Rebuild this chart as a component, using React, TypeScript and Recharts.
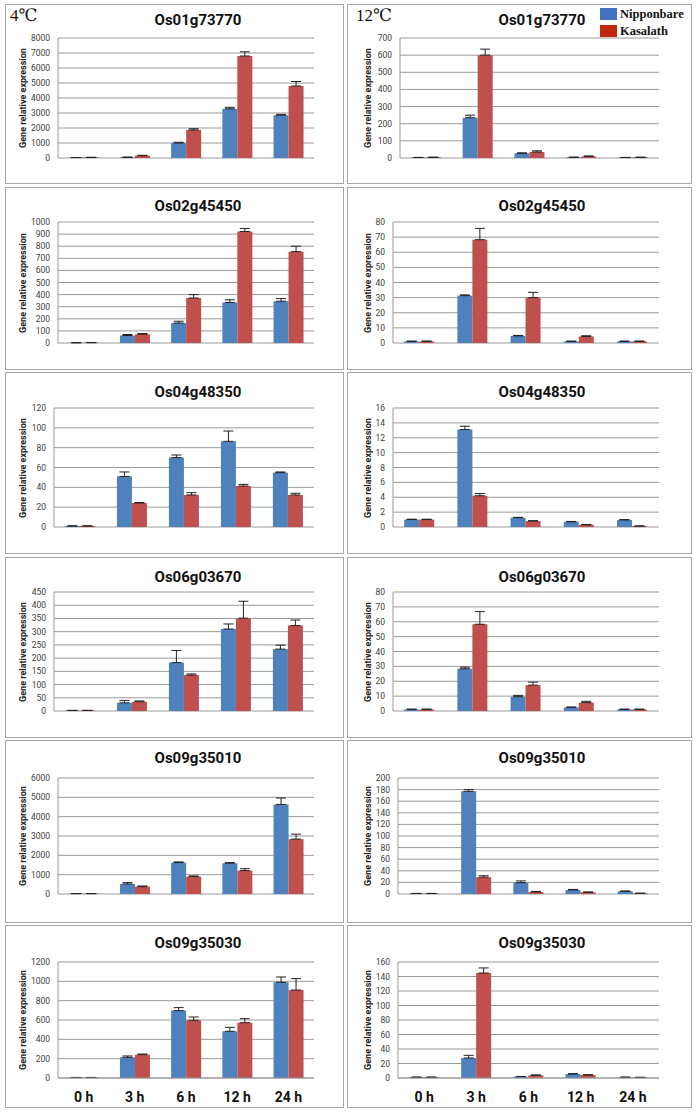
import React from 'react';
import { BarChart, Bar, XAxis, YAxis, CartesianGrid, ErrorBar } from 'recharts';

const categories = ['0 h', '3 h', '6 h', '12 h', '24 h'];
const seriesNames = ['Nipponbare', 'Kasalath'];
const yAxisTitle = 'Gene relative expression';
const tempLabels = ['4℃', '12℃'];

// Os01g73770 4℃
const g1c4Nip = [30, 50, 1000, 3280, 2850];
const g1c4NipErr = [5, 10, 50, 100, 60];
const g1c4Kas = [40, 150, 1870, 6800, 4800];
const g1c4KasErr = [5, 30, 80, 280, 300];
const g1c4Ticks = [0, 1000, 2000, 3000, 4000, 5000, 6000, 7000, 8000];
// Os01g73770 12℃
const g1c12Nip = [3, 235, 27, 4, 3];
const g1c12NipErr = [0.5, 15, 3, 1, 0.5];
const g1c12Kas = [4, 600, 35, 9, 4];
const g1c12KasErr = [0.5, 35, 7, 3, 0.5];
const g1c12Ticks = [0, 100, 200, 300, 400, 500, 600, 700];
// Os02g45450 4℃
const g2c4Nip = [2, 62, 165, 335, 345];
const g2c4NipErr = [0.5, 8, 15, 22, 22];
const g2c4Kas = [3, 72, 372, 922, 755];
const g2c4KasErr = [0.5, 6, 28, 25, 45];
const g2c4Ticks = [0, 100, 200, 300, 400, 500, 600, 700, 800, 900, 1000];
// Os02g45450 12℃
const g2c12Nip = [1, 31.3, 4.7, 1, 1];
const g2c12NipErr = [0.3, 0.5, 0.3, 0.3, 0.3];
const g2c12Kas = [1, 68.3, 30, 4.3, 1];
const g2c12KasErr = [0.3, 7.5, 3.5, 0.5, 0.3];
const g2c12Ticks = [0, 10, 20, 30, 40, 50, 60, 70, 80];
// Os04g48350 4℃
const g3c4Nip = [1, 51, 70, 86.4, 54.8];
const g3c4NipErr = [0.2, 4.5, 2.6, 10.4, 0.7];
const g3c4Kas = [1, 24.2, 32.3, 41.3, 32.3];
const g3c4KasErr = [0.2, 0.5, 2.3, 1.7, 1.7];
const g3c4Ticks = [0, 20, 40, 60, 80, 100, 120];
// Os04g48350 12℃
const g3c12Nip = [1.0, 13.1, 1.25, 0.7, 0.95];
const g3c12NipErr = [0.05, 0.45, 0.05, 0.05, 0.05];
const g3c12Kas = [1.0, 4.2, 0.8, 0.3, 0.12];
const g3c12KasErr = [0.05, 0.3, 0.05, 0.03, 0.02];
const g3c12Ticks = [0, 2, 4, 6, 8, 10, 12, 14, 16];
// Os06g03670 4℃
const g4c4Nip = [2, 31, 183, 310, 234];
const g4c4NipErr = [0.5, 9, 46, 19, 15];
const g4c4Kas = [2, 35, 136, 351, 323];
const g4c4KasErr = [0.5, 3, 4, 64, 21];
const g4c4Ticks = [0, 50, 100, 150, 200, 250, 300, 350, 400, 450];
// Os06g03670 12℃
const g4c12Nip = [1, 28.4, 9.6, 2.4, 1];
const g4c12NipErr = [0.3, 1.1, 0.9, 0.3, 0.3];
const g4c12Kas = [1, 58.3, 17.4, 5.6, 1];
const g4c12KasErr = [0.3, 8.5, 2, 0.9, 0.3];
const g4c12Ticks = [0, 10, 20, 30, 40, 50, 60, 70, 80];
// Os09g35010 4℃
const g5c4Nip = [20, 519, 1625, 1590, 4634];
const g5c4NipErr = [5, 70, 35, 35, 330];
const g5c4Kas = [20, 380, 900, 1210, 2836];
const g5c4KasErr = [5, 35, 34, 100, 260];
const g5c4Ticks = [0, 1000, 2000, 3000, 4000, 5000, 6000];
// Os09g35010 12℃
const g5c12Nip = [0.8, 177, 19.6, 6.9, 4.6];
const g5c12NipErr = [0.2, 3, 3, 1, 0.6];
const g5c12Kas = [0.8, 29, 3.5, 2.9, 1.2];
const g5c12KasErr = [0.2, 2.5, 1, 0.6, 0.2];
const g5c12Ticks = [0, 20, 40, 60, 80, 100, 120, 140, 160, 180, 200];
// Os09g35030 4℃
const g6c4Nip = [5, 214, 697, 483, 990];
const g6c4NipErr = [1, 14, 31, 41, 55];
const g6c4Kas = [5, 241, 597, 572, 910];
const g6c4KasErr = [1, 7, 34, 42, 118];
const g6c4Ticks = [0, 200, 400, 600, 800, 1000, 1200];
// Os09g35030 12℃
const g6c12Nip = [1, 27.6, 1.8, 5.5, 1];
const g6c12NipErr = [0.3, 3.7, 0.3, 0.5, 0.3];
const g6c12Kas = [1, 144.8, 3.7, 4.1, 0.8];
const g6c12KasErr = [0.3, 7, 0.5, 0.5, 0.2];
const g6c12Ticks = [0, 20, 40, 60, 80, 100, 120, 140, 160];

const geneNames = ['Os01g73770', 'Os02g45450', 'Os04g48350', 'Os06g03670', 'Os09g35010', 'Os09g35030'];

const panels = [
  [g1c4Nip, g1c4NipErr, g1c4Kas, g1c4KasErr, g1c4Ticks, g1c12Nip, g1c12NipErr, g1c12Kas, g1c12KasErr, g1c12Ticks],
  [g2c4Nip, g2c4NipErr, g2c4Kas, g2c4KasErr, g2c4Ticks, g2c12Nip, g2c12NipErr, g2c12Kas, g2c12KasErr, g2c12Ticks],
  [g3c4Nip, g3c4NipErr, g3c4Kas, g3c4KasErr, g3c4Ticks, g3c12Nip, g3c12NipErr, g3c12Kas, g3c12KasErr, g3c12Ticks],
  [g4c4Nip, g4c4NipErr, g4c4Kas, g4c4KasErr, g4c4Ticks, g4c12Nip, g4c12NipErr, g4c12Kas, g4c12KasErr, g4c12Ticks],
  [g5c4Nip, g5c4NipErr, g5c4Kas, g5c4KasErr, g5c4Ticks, g5c12Nip, g5c12NipErr, g5c12Kas, g5c12KasErr, g5c12Ticks],
  [g6c4Nip, g6c4NipErr, g6c4Kas, g6c4KasErr, g6c4Ticks, g6c12Nip, g6c12NipErr, g6c12Kas, g6c12KasErr, g6c12Ticks],
];

// layout (styles only)
const ROWS = [
  { top: 4, h: 180, pt: 38, pb: 158, ty: 20 },
  { top: 187, h: 183, pt: 222, pb: 343, ty: 206 },
  { top: 372, h: 182, pt: 408, pb: 527, ty: 392 },
  { top: 557, h: 181, pt: 592, pb: 711, ty: 577 },
  { top: 740, h: 183, pt: 778, pb: 894, ty: 758 },
  { top: 925, h: 183, pt: 962, pb: 1078, ty: 943 },
];
const COLS = [
  { x: 5, w: 339, right: 314, title: 198, ylab: 23, axis: [58, 58, 54, 54, 58, 58] },
  { x: 347, w: 345, right: 659, title: 542, ylab: 368, axis: [400, 393, 393, 393, 398, 398] },
];
const BLUE = '#4F81BD';
const RED = '#C0504D';
const GRID = '#9a9a9a';

function Panel({ row, col, nip, nipErr, kas, kasErr, ticks }: any) {
  const R = ROWS[row];
  const C = COLS[col];
  const last = row === ROWS.length - 1;
  const xh = last ? 30 : 0;
  const axisX = C.axis[row];
  const data = categories.map((c, i) => ({
    cat: c,
    n: nip[i],
    k: kas[i],
    ne: [0, nipErr[i]],
    ke: [0, kasErr[i]],
  }));
  const margin = {
    top: R.pt - R.top,
    left: 0,
    right: C.x + C.w - C.right,
    bottom: R.top + R.h - R.pb - xh,
  };
  return (
    <div style={{ position: 'absolute', left: C.x, top: R.top, width: C.w, height: R.h }}>
      <div style={{ position: 'absolute', inset: 0, border: '1px solid #a6a6a6', boxSizing: 'border-box' }} />
      <BarChart width={C.w} height={R.h} data={data} margin={margin} barCategoryGap="21%" barGap={0}>
        <CartesianGrid vertical={false} stroke={GRID} />
        <XAxis
          dataKey="cat"
          height={xh}
          axisLine={{ stroke: GRID }}
          tickLine={false}
          tickMargin={8}
          tick={last ? { fontSize: 14, fontWeight: 'bold', fill: '#111', fontFamily: 'Roboto' } : false}
        />
        <YAxis
          type="number"
          width={axisX - C.x}
          domain={[0, ticks[ticks.length - 1]]}
          ticks={ticks}
          interval={0}
          axisLine={{ stroke: GRID }}
          tickLine={false}
          tick={{ fontSize: 8.5, fill: '#404040', fontFamily: 'Roboto' }}
          allowDataOverflow
        />
        <Bar dataKey="n" name={seriesNames[0]} fill={BLUE} isAnimationActive={false}>
          <ErrorBar dataKey="ne" direction="y" width={5} stroke="#222" strokeWidth={1} />
        </Bar>
        <Bar dataKey="k" name={seriesNames[1]} fill={RED} isAnimationActive={false}>
          <ErrorBar dataKey="ke" direction="y" width={5} stroke="#222" strokeWidth={1} />
        </Bar>
      </BarChart>
    </div>
  );
}

export default function App() {
  const items: any[] = [];
  const overlays: any[] = [];
  panels.forEach((p, row) => {
    [0, 1].forEach((col) => {
      const o = col * 5;
      items.push(
        <Panel key={`p${row}-${col}`} row={row} col={col} nip={p[o]} nipErr={p[o + 1]} kas={p[o + 2]} kasErr={p[o + 3]} ticks={p[o + 4]} />
      );
      const R = ROWS[row];
      const C = COLS[col];
      overlays.push(
        <div key={`t${row}-${col}`} style={{ position: 'absolute', left: C.title - 100, top: R.ty - 10, width: 200, height: 20, lineHeight: '20px', textAlign: 'center', fontFamily: 'Roboto', fontWeight: 'bold', fontSize: 15, color: '#111' }}>
          {geneNames[row]}
        </div>
      );
      const cy = (R.pt + R.pb) / 2;
      overlays.push(
        <div key={`y${row}-${col}`} style={{ position: 'absolute', left: C.ylab - 80, top: cy - 6, width: 160, height: 12, lineHeight: '12px', textAlign: 'center', fontFamily: 'Roboto', fontWeight: 'bold', fontSize: 9, color: '#222', transform: 'rotate(-90deg)', whiteSpace: 'nowrap' }}>
          {yAxisTitle}
        </div>
      );
    });
  });
  return (
    <div style={{ position: 'absolute', left: 0, top: 0, width: 697, height: 1112, background: '#fff', overflow: 'hidden' }}>
      {items}
      {overlays}
      <div style={{ position: 'absolute', left: 10, top: 5, fontFamily: '"Liberation Serif", "DejaVu Serif", serif', fontSize: 17, color: '#111', lineHeight: '22px' }}>{tempLabels[0]}</div>
      <div style={{ position: 'absolute', left: 356, top: 5, fontFamily: '"Liberation Serif", "DejaVu Serif", serif', fontSize: 17, color: '#111', lineHeight: '22px' }}>{tempLabels[1]}</div>
      <div style={{ position: 'absolute', left: 600, top: 8, width: 17, height: 12, background: '#4472C4' }} />
      <div style={{ position: 'absolute', left: 620, top: 6, fontFamily: '"Liberation Serif", serif', fontWeight: 'bold', fontSize: 12.5, lineHeight: '16px', color: '#111' }}>{seriesNames[0]}</div>
      <div style={{ position: 'absolute', left: 600, top: 25, width: 17, height: 12, background: '#C0280C' }} />
      <div style={{ position: 'absolute', left: 620, top: 23, fontFamily: '"Liberation Serif", serif', fontWeight: 'bold', fontSize: 12.5, lineHeight: '16px', color: '#111' }}>{seriesNames[1]}</div>
    </div>
  );
}
